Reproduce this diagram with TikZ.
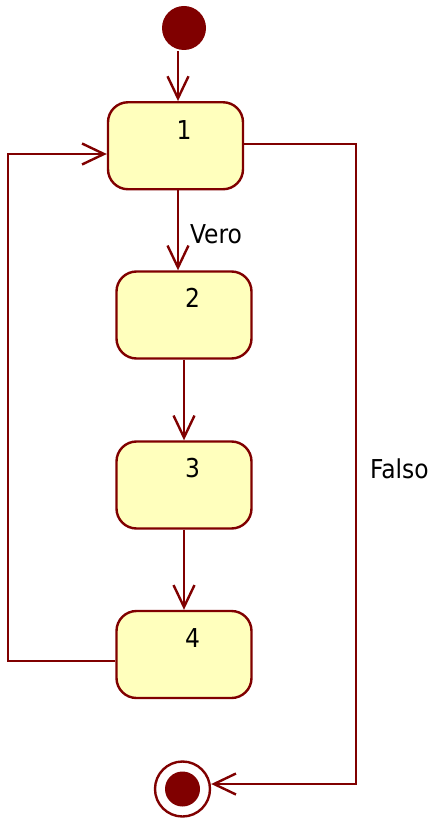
\documentclass[tikz,border=0pt]{standalone}
\usepackage{fontspec}
\setmainfont{DejaVu Sans Condensed}
\usetikzlibrary{arrows.meta}
\definecolor{umlred}{RGB}{128,0,0}
\definecolor{umlfill}{RGB}{255,255,189}
\begin{document}
\begin{tikzpicture}[x=1pt,y=-1pt]
\tikzset{
  every path/.style={line width=2.4pt},
  statebox/.style={draw=umlred, line width=2.4pt, fill=umlfill, rounded corners=20pt, minimum width=135pt, minimum height=87pt, inner sep=0pt},
  lbl/.style={font=\fontsize{26}{31}\selectfont, inner sep=0pt, text=black},
  arr/.style={draw=umlred, line width=2.4pt, -{Straight Barb[length=22pt,width=21pt,line width=2.4pt]}},
}
\useasboundingbox (0,0) rectangle (430,818);
\node[circle, fill=umlred, minimum size=44pt, inner sep=0pt] (init) at (184,28) {};
\node[statebox] (n1) at (175.5,145.75) {};
\node[statebox] (n2) at (184,315) {};
\node[statebox] (n3) at (184,485) {};
\node[statebox] (n4) at (184,654.5) {};
\node[circle, draw=umlred, line width=2.4pt, fill=white, minimum size=55pt, inner sep=0pt] (fin) at (182.5,789) {};
\fill[umlred] (fin.center) circle (17.5pt);

\node[lbl] (t1) at ([xshift=8.5pt,yshift=-29pt]n1.north) {1};
\node[lbl] (t2) at ([xshift=8.5pt,yshift=-28pt]n2.north) {2};
\node[lbl] (t3) at ([xshift=8.5pt,yshift=-28pt]n3.north) {3};
\node[lbl] (t4) at ([xshift=8.5pt,yshift=-28pt]n4.north) {4};

\coordinate (c1) at (178,0);
\coordinate (L1) at (8,661);
\coordinate (L2) at (8,154);
\coordinate (R1) at (356,144);
\coordinate (R2) at (356,784);

\draw[arr] (init.south -| c1) -- (n1.north -| c1);
\draw[arr] (n1.south -| c1) -- node[lbl, anchor=west, pos=0.55, xshift=11pt] (vero) {Vero} (n2.north -| c1);
\draw[arr] (n2) -- (n3);
\draw[arr] (n3) -- (n4);
\draw[arr] (n4.west |- L1) -- (L1) -- (L2) -- (n1.west |- L2);
\draw[arr] (n1.east |- R1) -- (R1) -- node[lbl, anchor=west, pos=0.508, xshift=13pt] (falso) {Falso} (R2) -- (fin.east |- R2);
\end{tikzpicture}
\end{document}
